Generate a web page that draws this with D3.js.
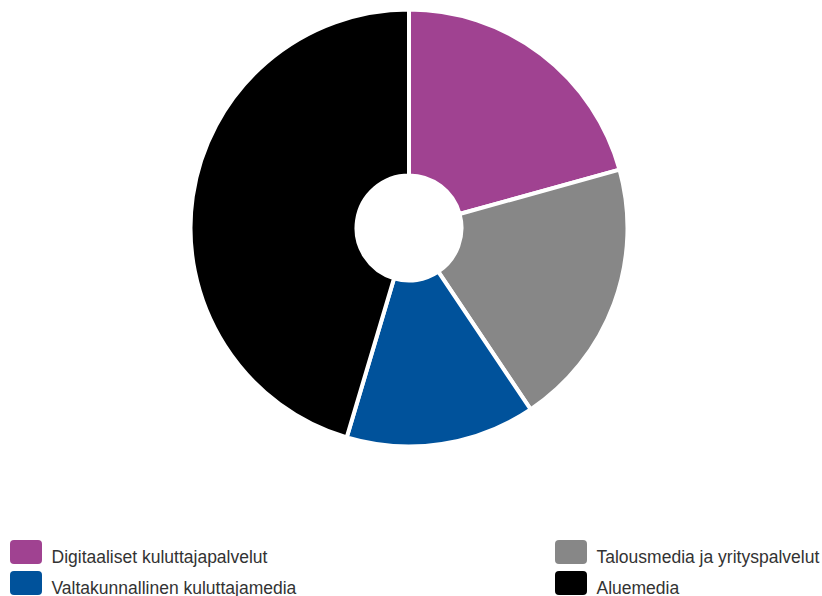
<!DOCTYPE html>
<html>
<head>
<meta charset="utf-8">
<script src="https://cdn.jsdelivr.net/npm/d3@7"></script>
<style>
  html, body { margin: 0; padding: 0; background: #fff; }
  svg { display: block; }
  text { font-family: "Liberation Sans", Arial, sans-serif; }
</style>
</head>
<body>
<svg id="chart" width="822" height="596"></svg>
<script>
// Revenue share by business segment (%)
const categories = [
  "Digitaaliset kuluttajapalvelut",
  "Talousmedia ja yrityspalvelut",
  "Valtakunnallinen kuluttajamedia",
  "Aluemedia"
];
const values = [20.7, 19.9, 14.0, 45.4];
const colors = ["#a04291", "#878787", "#00529b", "#000000"];

// Legend order: two columns, row-major
const legendOrder = [0, 1, 2, 3];

const width = 822, height = 596;
const svg = d3.select("#chart");

const cx = 409, cy = 228;
const outerR = 218.5, innerR = 52.5;

const pie = d3.pie().sort(null).value(d => d.value);
const arc = d3.arc().innerRadius(innerR).outerRadius(outerR);

const data = categories.map((c, i) => ({ name: c, value: values[i], color: colors[i] }));

const g = svg.append("g").attr("transform", `translate(${cx},${cy})`);
g.selectAll("path")
  .data(pie(data))
  .join("path")
  .attr("d", arc)
  .attr("fill", d => d.data.color)
  .attr("stroke", "#fff")
  .attr("stroke-width", 4)
  .attr("stroke-linejoin", "miter");

// Legend
const colX = [10, 555];
const rowY = [540, 571];
const legend = svg.append("g");
legendOrder.forEach((idx, k) => {
  const col = k % 2, row = Math.floor(k / 2);
  const item = legend.append("g").attr("transform", `translate(${colX[col]},${rowY[row]})`);
  item.append("rect")
    .attr("width", 32).attr("height", 24)
    .attr("rx", 4).attr("ry", 4)
    .attr("fill", data[idx].color);
  item.append("text")
    .attr("x", 41.5).attr("y", 22.7)
    .attr("font-size", 17.5)
    .attr("fill", "#333")
    .text(data[idx].name);
});
</script>
</body>
</html>
